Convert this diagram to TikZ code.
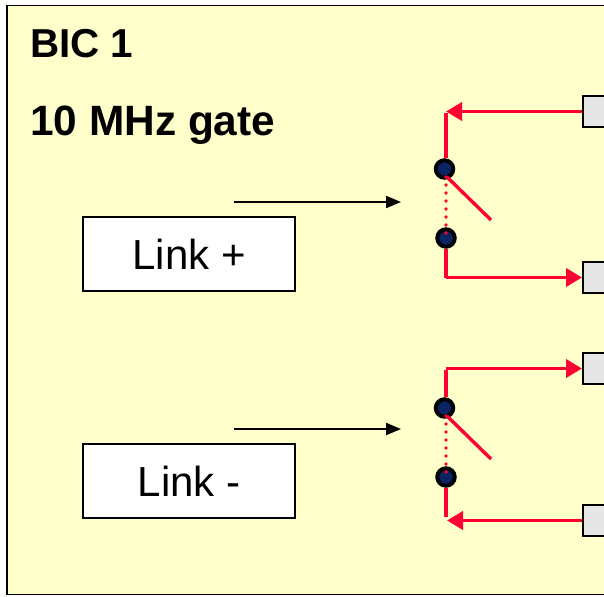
\documentclass[tikz,border=0pt]{standalone}
\usepackage{fontspec}
\setmainfont{Liberation Sans}
\usetikzlibrary{arrows.meta,positioning,calc}
\definecolor{panelyellow}{HTML}{FFFFCC}
\definecolor{wirered}{HTML}{FF0033}
\definecolor{dotblue}{HTML}{0A2463}
\definecolor{padgray}{HTML}{E6E6E6}
\tikzset{
  titletext/.style={font=\fontsize{40.4}{44}\selectfont\bfseries,anchor=base west,inner sep=0pt},
  linkbox/.style={draw=black,line width=2pt,fill=white,minimum width=212pt,minimum height=74pt,inner sep=0pt,font=\fontsize{42}{46}\selectfont},
  padbox/.style={draw=black,line width=2pt,fill=padgray,minimum width=40pt,minimum height=31pt,inner sep=0pt},
  contact/.style={circle,draw=black,line width=4pt,fill=dotblue,minimum size=17.5pt,inner sep=0pt},
  wire/.style={draw=wirered,line width=3.9pt},
  wirearrow/.style={wire,-{Triangle[length=16pt,width=18pt]}},
  bridge/.style={draw=wirered,line width=3.6pt,line cap=round,dash pattern=on 0pt off 8pt},
  ctrlarrow/.style={draw=black,line width=2pt,-{Triangle[length=15pt,width=12pt]}},
}
\begin{document}
\begin{tikzpicture}[x=1pt,y=-1pt]
  \clip (0,0) rectangle (604,596);
  \fill[white] (0,0) rectangle (604,596);
  % outer panel, its right side lies past the page edge
  \draw[fill=panelyellow,line width=1.8pt] (7,5.5) rectangle (640,594.5);
  \node[titletext] (title) at (30,58) {BIC 1};
  \node[titletext,font=\fontsize{42.4}{46}\selectfont\bfseries] (gate) at (30,135.5) {10 MHz gate};
  \node[linkbox] (linkp) at (189,254) {Link +};
  \node[linkbox] (linkm) at (189,481) {Link -};
  % control arrows
  \coordinate (ctrlpa) at (234,202);
  \coordinate (ctrlpb) at (401,202);
  \coordinate (ctrlma) at (234,429);
  \coordinate (ctrlmb) at (401,429);
  \draw[ctrlarrow] (ctrlpa) -- (ctrlpb);
  \draw[ctrlarrow] (ctrlma) -- (ctrlmb);
  % pads on the right edge
  \node[padbox,anchor=west] (pada) at (582,111.5) {};
  \node[padbox,anchor=west] (padb) at (582,277.5) {};
  \node[padbox,anchor=west] (padc) at (582,368.5) {};
  \node[padbox,anchor=west] (padd) at (582,520.5) {};
  % upper switch
  \node[contact] (dota) at (444.5,169) {};
  \node[contact] (dotb) at (446,238) {};
  \coordinate (corna) at (446,111.5);
  \coordinate (cornb) at (446,277.5);
  \draw[wire] (dota.north -| corna) -- ([yshift=-1.9pt]corna);
  \draw[wirearrow] (pada.west) -- (corna);
  \draw[wire] (dotb.south) -- ([yshift=1.9pt]cornb) -- ++(1.9,0);
  \draw[wirearrow] (cornb) -- (padb.west);
  \coordinate (armaa) at (447,177);
  \coordinate (armab) at (491,220);
  \coordinate (brga) at (446,177);
  \coordinate (brgb) at (446,233);
  \draw[wire,line width=3.4pt] (armaa) -- (armab);
  \draw[bridge] (brga) -- (brgb);
  % lower switch
  \node[contact] (dotc) at (444.5,408) {};
  \node[contact] (dotd) at (446,477) {};
  \coordinate (cornc) at (446,368.5);
  \coordinate (cornd) at (446,517);
  \coordinate (cornt) at (447,520.5);
  \draw[wire] (dotc.north -| cornc) -- ([yshift=-1.9pt]cornc);
  \draw[wirearrow] (cornc) -- (padc.west);
  \draw[wire] (dotd.south) -- (cornd);
  \draw[wirearrow] (padd.west) -- (cornt);
  \coordinate (armca) at (447,416);
  \coordinate (armcb) at (491,459);
  \coordinate (brgc) at (446,416);
  \coordinate (brgd) at (446,472);
  \draw[wire,line width=3.4pt] (armca) -- (armcb);
  \draw[bridge] (brgc) -- (brgd);
\end{tikzpicture}
\end{document}
